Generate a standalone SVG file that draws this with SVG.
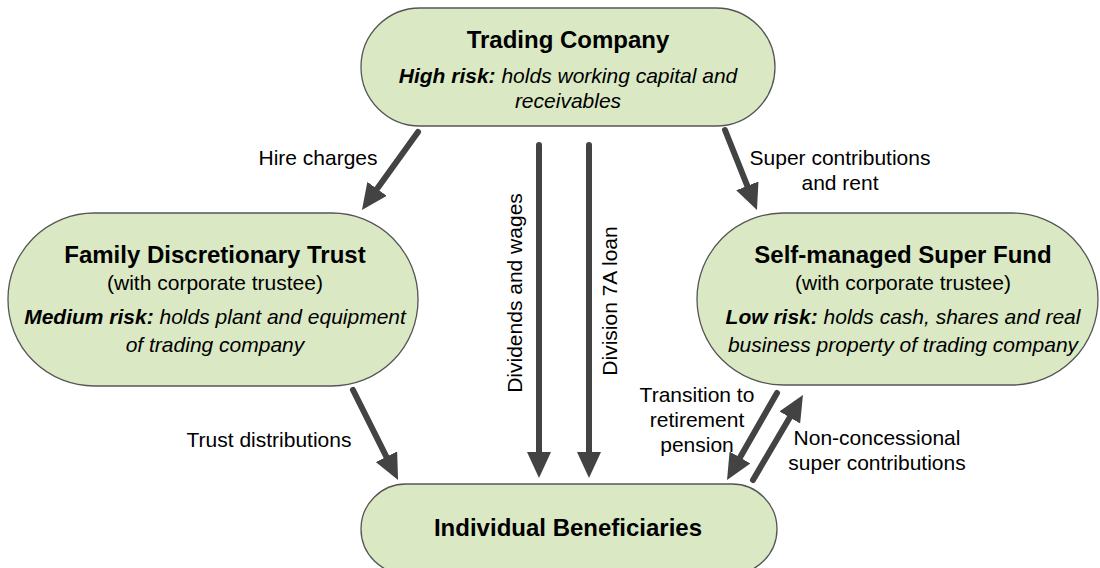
<svg xmlns="http://www.w3.org/2000/svg" width="1100" height="568" viewBox="0 0 1100 568">
  <style>
    .node { fill: #dae9c4; stroke: #555555; stroke-width: 1.3; }
    text { font-family: "Liberation Sans", Arial, sans-serif; fill: #000000; }
    .title { font-size: 24px; font-weight: bold; text-anchor: middle; }
    .sub { font-size: 21px; text-anchor: middle; }
    .it { font-size: 21px; font-style: italic; text-anchor: middle; }
    .b { font-weight: bold; }
    .lbl { font-size: 21px; text-anchor: middle; }
    .conn { stroke: #434343; stroke-width: 6; stroke-linecap: round; fill: none; marker-end: url(#head); }
  </style>
  <defs>
    <marker id="head" markerUnits="userSpaceOnUse" markerWidth="26" markerHeight="24" refX="4" refY="12" orient="auto" viewBox="0 0 26 24">
      <path d="M0,0 L26,12 L0,24 Z" fill="#434343"/>
    </marker>
  </defs>
  <rect width="1100" height="568" fill="#ffffff"/>

  <g id="trading-company">
    <rect class="node" x="361" y="8" width="414" height="118" rx="59" ry="59"/>
    <text class="title" x="568" y="48">Trading Company</text>
    <text class="it" x="568" y="83"><tspan class="b">High risk:</tspan> holds working capital and</text>
    <text class="it" x="568" y="108">receivables</text>
  </g>

  <g id="family-trust">
    <rect class="node" x="8" y="213" width="410" height="173" rx="86" ry="86"/>
    <text class="title" x="215" y="263">Family Discretionary Trust</text>
    <text class="sub" x="215" y="290">(with corporate trustee)</text>
    <text class="it" x="215" y="324"><tspan class="b">Medium risk:</tspan> holds plant and equipment</text>
    <text class="it" x="215" y="352">of trading company</text>
  </g>

  <g id="super-fund">
    <rect class="node" x="697" y="213" width="401" height="172" rx="86" ry="86"/>
    <text class="title" x="903" y="263">Self-managed Super Fund</text>
    <text class="sub" x="903" y="290">(with corporate trustee)</text>
    <text class="it" x="903" y="324"><tspan class="b">Low risk:</tspan> holds cash, shares and real</text>
    <text class="it" x="903" y="352">business property of trading company</text>
  </g>

  <g id="individual-beneficiaries">
    <rect class="node" x="361" y="484" width="416" height="90" rx="45" ry="45"/>
    <text class="title" x="568" y="536">Individual Beneficiaries</text>
  </g>

  <g id="connectors">
    <line class="conn" x1="418" y1="132" x2="374.8" y2="192.1"/>
    <line class="conn" x1="725" y1="130" x2="748.8" y2="189.6"/>
    <line class="conn" x1="539" y1="145" x2="539" y2="456"/>
    <line class="conn" x1="589" y1="145" x2="589" y2="456"/>
    <line class="conn" x1="353" y1="390" x2="388.2" y2="460.3"/>
    <line class="conn" x1="777" y1="393" x2="738" y2="460.9"/>
    <line class="conn" x1="753" y1="480" x2="791.8" y2="414"/>

    <text class="lbl" x="318" y="165">Hire charges</text>
    <text class="lbl" x="840" y="165">Super contributions</text>
    <text class="lbl" x="840" y="190">and rent</text>
    <text class="lbl" transform="translate(522,293) rotate(-90)">Dividends and wages</text>
    <text class="lbl" transform="translate(617,301) rotate(-90)">Division 7A loan</text>
    <text class="lbl" x="269" y="447">Trust distributions</text>
    <text class="lbl" x="697" y="402">Transition to</text>
    <text class="lbl" x="697" y="427">retirement</text>
    <text class="lbl" x="697" y="452">pension</text>
    <text class="lbl" x="877" y="445">Non-concessional</text>
    <text class="lbl" x="877" y="470">super contributions</text>
  </g>
</svg>
